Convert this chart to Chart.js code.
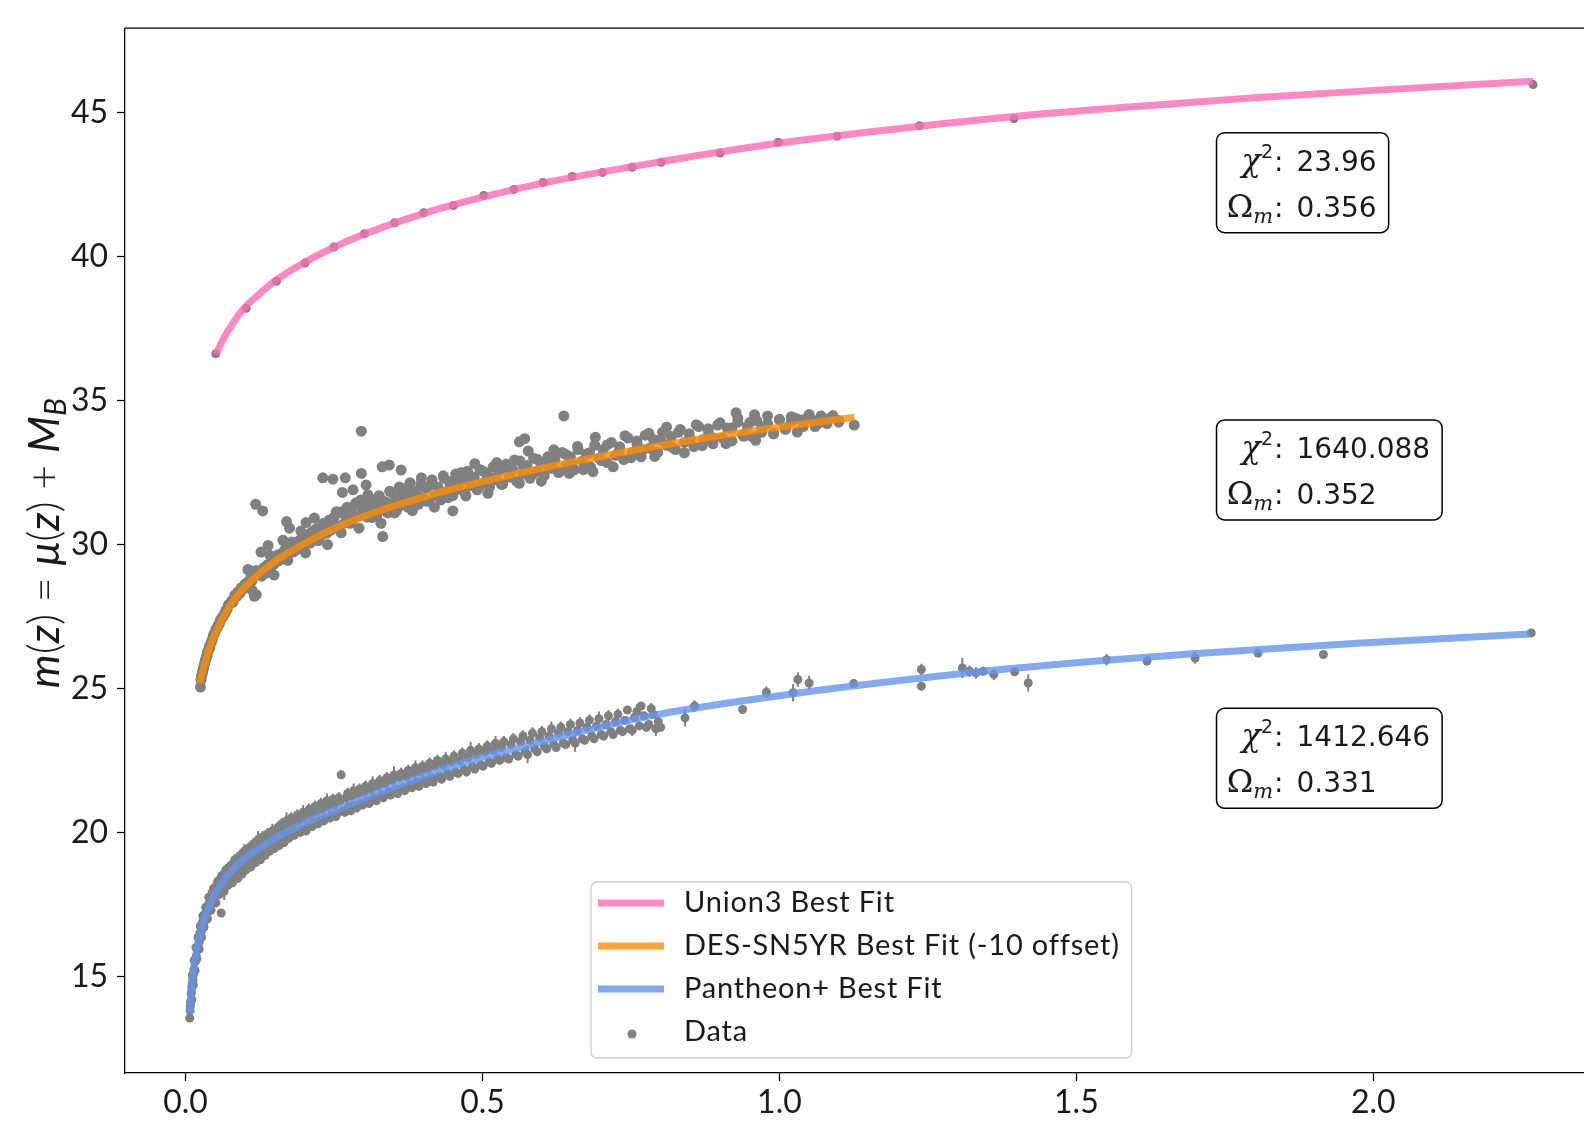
<!DOCTYPE html>
<html lang="en">
<head>
<meta charset="UTF-8">
<title>m(z) best fits</title>
<script src="https://cdn.jsdelivr.net/npm/chart.js"></script>
<style>
    html, body { margin: 0; padding: 0; background: #fff; overflow: hidden; }
    #wrap { width: 1600px; height: 1124px; }
</style>
</head>
<body>
<div id="wrap"><canvas id="chart" width="1600" height="1124"></canvas></div>
<script>
// ---- values ----
const xTicks = [0.0, 0.5, 1.0, 1.5, 2.0];
const yTicks = [15, 20, 25, 30, 35, 40, 45];

const fitLabels = ['Union3 Best Fit', 'DES-SN5YR Best Fit (-10 offset)', 'Pantheon+ Best Fit'];
const dataLabel = 'Data';
const chi2Values = ['23.96', '1640.088', '1412.646'];
const omegaValues = ['0.356', '0.352', '0.331'];

// best-fit curves
const union3FitZ = [0.051, 0.065, 0.08, 0.1, 0.125, 0.15, 0.2, 0.25, 0.3, 0.4, 0.5, 0.6, 0.8, 1.0, 1.2, 1.4, 1.6, 1.8, 2.0, 2.269];
const union3FitM = [36.6, 37.2, 37.7, 38.25, 38.72, 39.15, 39.8, 40.33, 40.78, 41.5, 42.07, 42.55, 43.3, 43.95, 44.45, 44.88, 45.22, 45.52, 45.78, 46.1];

const desFitZ = [0.024, 0.03, 0.035, 0.042, 0.052, 0.062, 0.074, 0.087, 0.102, 0.12, 0.14, 0.16, 0.186, 0.215, 0.242, 0.28, 0.327, 0.38, 0.439, 0.54, 0.641, 0.753, 0.865, 0.978, 1.09, 1.126];
const desFitM = [25.19, 25.68, 26.05, 26.5, 27.0, 27.42, 27.85, 28.22, 28.57, 28.92, 29.25, 29.55, 29.87, 30.2, 30.48, 30.82, 31.18, 31.52, 31.87, 32.38, 32.83, 33.27, 33.67, 34.02, 34.33, 34.42];

const pantheonFitZ = [0.007, 0.009, 0.012, 0.015, 0.018, 0.022, 0.026, 0.032, 0.040, 0.050, 0.063, 0.085, 0.108, 0.135, 0.164, 0.220, 0.276, 0.360, 0.473, 0.585, 0.66, 0.796, 1.0, 1.11, 1.40, 1.69, 1.98, 2.263];
const pantheonFitM = [13.70, 14.30, 14.98, 15.45, 15.83, 16.25, 16.60, 17.02, 17.45, 17.87, 18.30, 18.82, 19.22, 19.60, 19.95, 20.50, 20.98, 21.66, 22.45, 23.07, 23.47, 24.10, 24.75, 25.05, 25.71, 26.20, 26.58, 26.89];

// data points [z, m]
const union3Points = [
    [0.051, 36.63], [0.102, 38.21], [0.153, 39.15], [0.201, 39.78], [0.250, 40.34], [0.301, 40.80],
    [0.352, 41.18], [0.401, 41.53], [0.451, 41.78], [0.502, 42.13], [0.553, 42.34], [0.602, 42.58],
    [0.651, 42.79], [0.702, 42.93], [0.752, 43.11], [0.801, 43.28], [0.900, 43.60], [0.998, 43.98],
    [1.097, 44.19], [1.236, 44.55], [1.395, 44.79], [2.269, 45.98]
];

const desPoints = [
    [0.025, 25.05], [0.026, 25.3], [0.027, 25.45], [0.028, 25.5], [0.029, 25.62], [0.030, 25.7], [0.031, 25.78],
    [0.032, 25.85], [0.033, 25.95], [0.034, 26.0], [0.035, 26.1], [0.036, 26.12], [0.037, 26.25], [0.038, 26.3],
    [0.040, 26.45], [0.041, 26.42], [0.043, 26.6], [0.045, 26.7], [0.047, 26.85], [0.049, 26.92], [0.051, 27.05],
    [0.053, 27.1], [0.055, 27.2], [0.057, 27.25], [0.059, 27.38], [0.061, 27.45], [0.063, 27.5], [0.066, 27.6],
    [0.068, 27.72], [0.070, 27.75], [0.072, 27.9], [0.075, 27.95], [0.078, 28.05], [0.080, 28.0], [0.083, 28.25],
    [0.086, 28.2], [0.088, 28.35], [0.091, 28.3], [0.094, 28.5], [0.097, 28.45], [0.100, 28.62],
    [0.105, 28.7], [0.108, 28.65], [0.110, 28.85], [0.112, 28.75], [0.113, 29.07], [0.116, 28.20], [0.119, 28.26],
    [0.118, 31.40], [0.130, 31.17], [0.139, 29.97], [0.122, 28.95], [0.125, 29.05], [0.128, 28.9], [0.132, 29.2],
    [0.135, 29.1], [0.138, 29.3], [0.142, 29.25], [0.145, 29.45], [0.148, 29.3], [0.150, 29.55], [0.153, 29.4],
    [0.156, 29.65], [0.158, 29.45], [0.162, 29.7], [0.165, 29.55], [0.168, 29.85], [0.170, 30.80], [0.175, 30.57],
    [0.172, 29.6], [0.178, 29.95], [0.182, 29.75], [0.185, 30.05], [0.188, 29.85], [0.192, 30.15], [0.195, 29.9],
    [0.198, 30.3], [0.202, 30.0], [0.203, 30.77], [0.206, 30.35], [0.210, 30.05], [0.213, 30.45], [0.216, 30.15],
    [0.220, 30.55], [0.224, 30.2], [0.227, 30.6], [0.230, 30.35], [0.231, 32.32], [0.234, 30.75], [0.238, 30.4],
    [0.242, 30.85], [0.245, 30.5], [0.248, 32.27], [0.250, 30.95], [0.253, 30.6], [0.257, 31.1], [0.260, 30.65],
    [0.264, 31.81], [0.264, 31.15], [0.268, 30.75], [0.269, 32.32], [0.272, 31.3], [0.275, 30.85], [0.279, 31.25],
    [0.282, 31.90], [0.283, 30.9], [0.287, 31.45], [0.291, 31.0], [0.295, 31.55], [0.296, 32.47], [0.296, 33.94],
    [0.299, 31.05], [0.302, 31.3], [0.304, 32.07], [0.306, 30.95], [0.310, 31.6], [0.314, 31.15], [0.318, 31.4],
    [0.322, 31.0], [0.326, 31.7], [0.330, 31.25], [0.331, 32.70], [0.332, 30.28], [0.335, 31.5], [0.340, 31.1],
    [0.343, 32.76], [0.344, 31.85], [0.348, 31.3], [0.352, 31.6], [0.356, 31.2], [0.360, 32.0], [0.363, 32.59],
    [0.365, 31.45], [0.370, 31.75], [0.374, 31.3], [0.378, 32.15], [0.382, 31.55], [0.387, 31.85], [0.392, 31.4],
    [0.396, 32.1], [0.400, 31.6], [0.405, 31.95], [0.410, 31.5], [0.415, 32.25], [0.420, 31.7], [0.425, 32.0],
    [0.430, 31.55], [0.435, 32.3], [0.440, 31.85], [0.445, 32.15], [0.450, 31.17], [0.450, 31.7], [0.455, 32.45],
    [0.460, 31.95], [0.465, 32.25], [0.470, 31.8], [0.475, 32.55], [0.480, 32.05], [0.486, 32.35], [0.491, 31.9],
    [0.496, 32.6], [0.502, 32.15], [0.507, 32.45], [0.512, 32.0], [0.518, 32.7], [0.523, 32.25], [0.528, 32.55],
    [0.534, 32.1], [0.540, 32.8], [0.545, 32.35], [0.551, 32.6], [0.557, 32.2], [0.562, 33.57], [0.563, 32.9],
    [0.568, 32.45], [0.571, 33.68], [0.575, 32.75], [0.580, 32.3], [0.586, 33.0], [0.592, 32.55], [0.598, 32.85],
    [0.604, 32.4], [0.610, 33.05], [0.616, 32.65], [0.622, 32.95], [0.628, 32.5], [0.634, 33.2], [0.637, 34.47],
    [0.641, 32.75], [0.646, 32.47], [0.648, 33.05], [0.655, 32.6], [0.661, 33.3], [0.668, 32.9], [0.675, 33.15],
    [0.682, 32.7], [0.686, 32.53], [0.689, 33.45], [0.696, 33.0], [0.703, 33.3], [0.710, 32.85], [0.717, 33.55],
    [0.724, 33.1], [0.731, 33.4], [0.738, 32.95], [0.745, 33.7], [0.752, 33.2], [0.760, 33.5], [0.767, 33.05],
    [0.774, 33.8], [0.781, 33.35], [0.788, 33.65], [0.795, 33.2], [0.803, 33.9], [0.810, 33.45], [0.818, 33.75],
    [0.825, 33.3], [0.833, 34.0], [0.840, 33.55], [0.848, 33.85], [0.856, 33.4], [0.864, 34.1], [0.872, 33.65],
    [0.880, 33.95], [0.888, 33.5], [0.896, 34.15], [0.904, 33.7], [0.912, 34.05], [0.920, 33.6], [0.927, 34.58],
    [0.930, 34.25], [0.938, 33.8], [0.946, 34.1], [0.954, 33.75], [0.958, 34.51], [0.962, 34.3], [0.970, 33.9],
    [0.980, 34.2], [0.990, 33.85], [1.000, 34.35], [1.010, 34.0], [1.020, 34.3], [1.028, 34.38], [1.040, 34.1],
    [1.056, 34.32], [1.065, 34.2], [1.084, 34.38], [1.100, 34.25], [1.126, 34.15]
];

// the wider part of the DES cloud
const desSpread = [
    [0.105, 29.13], [0.112, 28.42], [0.119, 29.10], [0.127, 29.74], [0.134, 29.00], [0.142, 29.63], [0.149, 28.94],
    [0.157, 29.55], [0.164, 30.15], [0.172, 29.45], [0.179, 30.09], [0.187, 29.83], [0.194, 30.47], [0.202, 29.71],
    [0.209, 30.34], [0.217, 30.92], [0.224, 30.14], [0.232, 30.73], [0.239, 30.00], [0.247, 30.57], [0.254, 31.14],
    [0.262, 30.41], [0.269, 31.02], [0.277, 30.74], [0.284, 31.35], [0.292, 30.57], [0.299, 31.17], [0.307, 31.73],
    [0.314, 30.94], [0.322, 31.49], [0.329, 30.74], [0.337, 31.30], [0.344, 31.85], [0.352, 31.10], [0.359, 31.69],
    [0.367, 31.39], [0.374, 31.98], [0.382, 31.18], [0.389, 31.77], [0.397, 32.32], [0.404, 31.51], [0.412, 32.06],
    [0.419, 31.30], [0.427, 31.84], [0.434, 32.39], [0.442, 31.63], [0.449, 32.22], [0.457, 31.91], [0.464, 32.50],
    [0.472, 31.69], [0.479, 32.28], [0.487, 32.81], [0.494, 32.00], [0.502, 32.54], [0.509, 31.78], [0.517, 32.32],
    [0.524, 32.85], [0.532, 32.09], [0.539, 32.68], [0.547, 32.36], [0.554, 32.94], [0.562, 32.13], [0.569, 32.71],
    [0.577, 33.25], [0.584, 32.43], [0.592, 32.96], [0.599, 32.20], [0.61, 32.75], [0.62, 33.29], [0.63, 32.54],
    [0.64, 33.13], [0.65, 32.82], [0.66, 33.41], [0.67, 32.60], [0.68, 33.19], [0.69, 33.73], [0.70, 32.92],
    [0.71, 33.46], [0.72, 32.70], [0.73, 33.24], [0.74, 33.78], [0.75, 33.02], [0.76, 33.60], [0.77, 33.29],
    [0.78, 33.87], [0.79, 33.06], [0.80, 33.64], [0.81, 34.08], [0.82, 33.37], [0.83, 33.90], [0.84, 33.19],
    [0.85, 33.67], [0.86, 34.16], [0.87, 33.44], [0.88, 34.02], [0.89, 33.70], [0.90, 34.23], [0.91, 33.51],
    [0.92, 34.05], [0.93, 34.38], [0.94, 33.76], [0.95, 34.24], [0.96, 33.62], [0.97, 34.05], [0.98, 34.47],
    [0.99, 33.85], [1.00, 34.33], [1.01, 34.06], [1.02, 34.44], [1.03, 33.91], [1.04, 34.34], [1.05, 34.52],
    [1.06, 34.10], [1.07, 34.47], [1.08, 34.20], [1.09, 34.48], [1.10, 34.31]
];

const pantheonPoints = [
    [0.007, 13.55], [0.0075, 13.8], [0.008, 13.95], [0.0085, 14.1], [0.009, 14.15], [0.0095, 14.4], [0.010, 14.45],
    [0.0105, 14.6], [0.011, 14.7], [0.0115, 14.75], [0.012, 14.95], [0.0125, 14.85], [0.013, 15.05], [0.0135, 15.1],
    [0.014, 15.25], [0.015, 15.2], [0.016, 15.5], [0.017, 15.6], [0.018, 15.7], [0.019, 15.95], [0.020, 16.0],
    [0.021, 16.05], [0.022, 16.3], [0.023, 16.2], [0.024, 16.5], [0.025, 16.45], [0.026, 16.7], [0.027, 16.6],
    [0.028, 16.85], [0.029, 16.75], [0.030, 16.95], [0.032, 16.9], [0.033, 17.15], [0.035, 17.1], [0.036, 17.35],
    [0.038, 17.3], [0.040, 17.55], [0.042, 17.5], [0.044, 17.7], [0.046, 17.65], [0.048, 17.85], [0.050, 17.75],
    [0.052, 18.0], [0.055, 17.95], [0.058, 18.15], [0.060, 18.05], [0.060, 17.2], [0.063, 18.3], [0.066, 18.2],
    [0.069, 18.45], [0.072, 18.3], [0.075, 18.6], [0.078, 18.45], [0.081, 18.75], [0.084, 18.55], [0.087, 18.85],
    [0.090, 18.65], [0.093, 18.95], [0.096, 18.75], [0.100, 19.05], [0.104, 18.85], [0.108, 19.2], [0.112, 18.95],
    [0.116, 19.35], [0.120, 19.1], [0.124, 19.5], [0.128, 19.25], [0.132, 19.6], [0.136, 19.35], [0.140, 19.75],
    [0.144, 19.5], [0.148, 19.85], [0.152, 19.6], [0.156, 19.95], [0.160, 19.7], [0.164, 20.1], [0.168, 19.85],
    [0.172, 20.2], [0.176, 19.95], [0.180, 20.3], [0.185, 20.05], [0.190, 20.4], [0.195, 20.1], [0.200, 20.5],
    [0.205, 20.2], [0.210, 20.6], [0.215, 20.35], [0.220, 20.7], [0.225, 20.4], [0.230, 20.8], [0.235, 20.5],
    [0.240, 20.9], [0.245, 20.6], [0.250, 20.95], [0.255, 20.65], [0.260, 21.1], [0.262, 22.0], [0.265, 20.75],
    [0.270, 21.2], [0.275, 20.9], [0.280, 21.25], [0.285, 20.95], [0.290, 21.35], [0.295, 21.0], [0.300, 21.4],
    [0.306, 21.1], [0.312, 21.5], [0.318, 21.2], [0.324, 21.6], [0.330, 21.3], [0.336, 21.7], [0.342, 21.4],
    [0.348, 21.8], [0.354, 21.5], [0.360, 21.9], [0.366, 21.55], [0.372, 21.95], [0.378, 21.65], [0.384, 22.05],
    [0.390, 21.75], [0.396, 22.1], [0.402, 21.8], [0.408, 22.2], [0.414, 21.9], [0.420, 22.3], [0.427, 21.95],
    [0.434, 22.35], [0.441, 22.05], [0.448, 22.45], [0.455, 22.1], [0.462, 22.5], [0.469, 22.2], [0.476, 22.6],
    [0.483, 22.3], [0.490, 22.7], [0.497, 22.35], [0.504, 22.8], [0.511, 22.45], [0.518, 22.85], [0.525, 22.55],
    [0.532, 22.95], [0.540, 22.6], [0.548, 23.05], [0.556, 22.7], [0.564, 23.15], [0.572, 22.8], [0.580, 23.2],
    [0.588, 22.9], [0.596, 23.3], [0.604, 23.0], [0.612, 23.35], [0.620, 23.05], [0.628, 23.45], [0.636, 23.1],
    [0.644, 23.5], [0.652, 23.2], [0.660, 23.55], [0.668, 23.25], [0.676, 23.65], [0.684, 23.35], [0.692, 23.7],
    [0.700, 23.4], [0.708, 23.75], [0.716, 23.5], [0.724, 23.85], [0.732, 23.55], [0.740, 23.9], [0.744, 24.25],
    [0.748, 23.6], [0.756, 24.0], [0.764, 23.7], [0.767, 24.39], [0.772, 24.05], [0.780, 23.75], [0.788, 24.1],
    [0.796, 23.85], [0.800, 23.65]
];

// the wider part of the Pantheon+ band [z, m, error]
const pantheonSpread = [
    [0.0105, 14.2, 0.15], [0.0115, 15.05, 0.2], [0.013, 14.7, 0.15], [0.0145, 15.55, 0.2], [0.016, 15.2, 0.15],
    [0.0175, 16.0, 0.2], [0.019, 15.6, 0.15], [0.021, 16.35, 0.2], [0.023, 15.95, 0.15], [0.025, 16.75, 0.2],
    [0.027, 16.35, 0.15], [0.029, 17.1, 0.2], [0.031, 16.7, 0.15], [0.034, 17.4, 0.2], [0.037, 17.0, 0.15],
    [0.039, 17.75, 0.25], [0.043, 17.3, 0.15], [0.047, 18.05, 0.2], [0.051, 17.55, 0.15], [0.054, 18.3, 0.2],
    [0.057, 17.85, 0.15], [0.061, 18.5, 0.2], [0.065, 17.95, 0.3], [0.068, 18.7, 0.2], [0.071, 18.15, 0.15],
    [0.076, 18.85, 0.2], [0.079, 18.25, 0.15], [0.083, 19.05, 0.2], [0.088, 18.4, 0.15], [0.092, 19.2, 0.2],
    [0.095, 18.55, 0.15], [0.099, 19.35, 0.25], [0.102, 18.7, 0.15], [0.106, 19.45, 0.2], [0.11, 18.8, 0.15],
    [0.114, 19.6, 0.2], [0.118, 18.95, 0.15], [0.122, 19.75, 0.3], [0.126, 19.05, 0.15], [0.13, 19.85, 0.2],
    [0.134, 19.2, 0.15], [0.138, 19.95, 0.2], [0.142, 19.35, 0.15], [0.146, 20.05, 0.25], [0.15, 19.45, 0.15],
    [0.154, 20.15, 0.2], [0.158, 19.55, 0.15], [0.162, 20.3, 0.2], [0.166, 19.65, 0.15], [0.17, 20.4, 0.3],
    [0.174, 19.8, 0.15], [0.178, 20.5, 0.2], [0.183, 19.9, 0.15], [0.188, 20.6, 0.2], [0.193, 20.0, 0.15],
    [0.198, 20.7, 0.25], [0.203, 20.05, 0.15], [0.208, 20.8, 0.2], [0.213, 20.2, 0.15], [0.218, 20.9, 0.2],
    [0.223, 20.3, 0.15], [0.228, 21.0, 0.2], [0.233, 20.4, 0.15], [0.238, 21.1, 0.25], [0.243, 20.5, 0.15],
    [0.248, 21.15, 0.2], [0.253, 20.55, 0.15], [0.258, 21.2, 0.2], [0.268, 20.7, 0.15], [0.273, 21.35, 0.2],
    [0.278, 20.75, 0.15], [0.283, 21.45, 0.25], [0.288, 20.85, 0.15], [0.293, 21.5, 0.2], [0.298, 20.95, 0.15],
    [0.303, 21.6, 0.2], [0.309, 21.0, 0.15], [0.315, 21.7, 0.25], [0.321, 21.1, 0.15], [0.327, 21.8, 0.2],
    [0.333, 21.2, 0.15], [0.339, 21.9, 0.2], [0.345, 21.3, 0.15], [0.351, 22.0, 0.3], [0.357, 21.35, 0.15],
    [0.363, 22.05, 0.2], [0.369, 21.45, 0.15], [0.375, 22.15, 0.2], [0.381, 21.55, 0.15], [0.387, 22.25, 0.25],
    [0.393, 21.6, 0.15], [0.399, 22.3, 0.2], [0.405, 21.7, 0.15], [0.411, 22.4, 0.2], [0.417, 21.75, 0.15],
    [0.424, 22.5, 0.2], [0.431, 21.85, 0.15], [0.438, 22.55, 0.25], [0.445, 21.95, 0.15], [0.452, 22.65, 0.2],
    [0.459, 22.05, 0.15], [0.466, 22.75, 0.2], [0.473, 22.1, 0.15], [0.48, 22.85, 0.3], [0.487, 22.2, 0.15],
    [0.494, 22.9, 0.2], [0.501, 22.3, 0.15], [0.508, 23.0, 0.2], [0.515, 22.4, 0.15], [0.522, 23.1, 0.25],
    [0.529, 22.5, 0.15], [0.536, 23.15, 0.2], [0.544, 22.55, 0.15], [0.552, 23.25, 0.2], [0.56, 22.65, 0.15],
    [0.568, 23.35, 0.2], [0.576, 22.7, 0.3], [0.584, 23.45, 0.2], [0.592, 22.8, 0.15], [0.6, 23.5, 0.2],
    [0.608, 22.9, 0.15], [0.616, 23.6, 0.25], [0.624, 22.95, 0.15], [0.632, 23.65, 0.2], [0.64, 23.05, 0.15],
    [0.648, 23.75, 0.2], [0.656, 23.1, 0.3], [0.664, 23.8, 0.2], [0.672, 23.2, 0.15], [0.68, 23.9, 0.2],
    [0.688, 23.25, 0.15], [0.696, 23.95, 0.25], [0.704, 23.35, 0.15], [0.712, 24.05, 0.2], [0.72, 23.4, 0.15],
    [0.728, 24.1, 0.2], [0.736, 23.5, 0.15], [0.752, 23.55, 0.2], [0.76, 24.2, 0.25], [0.776, 23.65, 0.15],
    [0.784, 24.3, 0.2], [0.792, 23.6, 0.25]
];

// sparse high-z Pantheon+ points [z, m, error]
const pantheonHiPoints = [
    [0.841, 23.98, 0.3], [0.857, 24.39, 0.2], [0.938, 24.27, 0.15], [0.978, 24.87, 0.2], [1.023, 24.85, 0.3],
    [1.031, 25.31, 0.25], [1.05, 25.19, 0.25], [1.125, 25.17, 0.15], [1.239, 25.66, 0.2], [1.239, 25.08, 0.15],
    [1.308, 25.71, 0.35], [1.320, 25.6, 0.2], [1.331, 25.54, 0.2], [1.343, 25.6, 0.15], [1.361, 25.49, 0.2],
    [1.396, 25.58, 0.15], [1.419, 25.19, 0.3], [1.551, 26.0, 0.2], [1.619, 25.95, 0.15], [1.70, 26.06, 0.2],
    [1.806, 26.23, 0.15], [1.916, 26.18, 0.15], [2.266, 26.93, 0.15]
];

// ---- styles ----
const PINK = 'rgba(255, 105, 180, 0.8)';
const ORANGE = 'rgba(255, 140, 0, 0.8)';
const BLUE = 'rgba(100, 149, 237, 0.8)';
const GRAY = '#808080';
const TEXT = '#1a1a1a';
const fitColors = [PINK, ORANGE, BLUE];

const toXY = (zs, ms) => zs.map((z, i) => ({ x: z, y: ms[i] }));
const pts = arr => arr.map(p => ({ x: p[0], y: p[1] }));

function fitDataset(label, zs, ms, color) {
    return {
        type: 'line', label: label, data: toXY(zs, ms),
        borderColor: color, borderWidth: 7, pointRadius: 0,
        cubicInterpolationMode: 'monotone', fill: false, order: 0
    };
}
function dataDataset(arr, r) {
    return {
        type: 'scatter', label: dataLabel, data: pts(arr),
        backgroundColor: GRAY, borderWidth: 0, pointRadius: r, order: 1
    };
}

// top and right spines
const framePlugin = {
    id: 'frame',
    afterDraw(chart) {
        const { ctx, chartArea: a } = chart;
        ctx.save();
        ctx.strokeStyle = '#000';
        ctx.lineWidth = 1.25;
        ctx.beginPath();
        ctx.moveTo(a.left, a.top);
        ctx.lineTo(a.right, a.top);
        ctx.lineTo(a.right, a.bottom);
        ctx.stroke();
        ctx.restore();
    }
};

// vertical error bars of the Pantheon+ points
const errorBarPlugin = {
    id: 'errbars',
    beforeDatasetsDraw(chart) {
        const { ctx, scales: { x, y } } = chart;
        ctx.save();
        ctx.strokeStyle = GRAY;
        ctx.lineWidth = 2;
        pantheonSpread.concat(pantheonHiPoints).forEach(p => {
            const px = x.getPixelForValue(p[0]);
            ctx.beginPath();
            ctx.moveTo(px, y.getPixelForValue(p[1] - p[2]));
            ctx.lineTo(px, y.getPixelForValue(p[1] + p[2]));
            ctx.stroke();
        });
        ctx.restore();
    }
};

// chi^2 / Omega_m boxes
const statsPlugin = {
    id: 'stats',
    afterDraw(chart, args, opts) {
        const { ctx, scales: { x, y } } = chart;
        ctx.save();
        opts.tops.forEach((top, i) => {
            const L = x.getPixelForValue(opts.left);
            const T = y.getPixelForValue(top);
            const colonX = L + 67, valX = L + 80;
            ctx.font = '28px "DejaVu Sans"';
            const w = Math.max(ctx.measureText(chi2Values[i]).width, ctx.measureText(omegaValues[i]).width);
            const W = valX + w + 12 - L, H = 100;

            ctx.fillStyle = '#fff';
            ctx.strokeStyle = '#000';
            ctx.lineWidth = 1.5;
            ctx.beginPath();
            ctx.roundRect(L, T, W, H, 8);
            ctx.fill();
            ctx.stroke();

            ctx.fillStyle = TEXT;
            ctx.textBaseline = 'alphabetic';
            const b1 = T + 38, b2 = T + 84;

            ctx.font = '28px "DejaVu Sans"';
            ctx.textAlign = 'right';
            ctx.fillText(':', colonX, b1);
            ctx.fillText(':', colonX, b2);
            const cw = ctx.measureText(':').width;
            ctx.textAlign = 'left';
            ctx.fillText(chi2Values[i], valX, b1);
            ctx.fillText(omegaValues[i], valX, b2);

            // chi^2 label
            ctx.textAlign = 'right';
            ctx.font = '19px "DejaVu Sans"';
            ctx.fillText('2', colonX - cw - 1, b1 - 13);
            const sw = ctx.measureText('2').width;
            ctx.font = 'italic 32px "DejaVu Serif"';
            ctx.fillText('χ', colonX - cw - sw - 1, b1);

            // Omega_m label
            ctx.font = 'italic 21px "DejaVu Serif"';
            ctx.fillText('m', colonX - cw - 1, b2 + 6);
            const mw = ctx.measureText('m').width;
            ctx.font = '32px "DejaVu Serif"';
            ctx.fillText('Ω', colonX - cw - mw - 1, b2);
        });
        ctx.restore();
    }
};

// legend box in the lower middle of the axes
const legendPlugin = {
    id: 'boxLegend',
    afterDraw(chart, args, opts) {
        const { ctx } = chart;
        const x0 = opts.x, y0 = opts.y, rowH = 43;
        const textX = x0 + 93;
        ctx.save();
        ctx.font = '29px Lato';
        ctx.letterSpacing = '0.8px';
        const labels = fitLabels.concat([dataLabel]);
        const tw = Math.max(...labels.map(l => ctx.measureText(l).width));
        const W = textX + tw + 12 - x0, H = 176;
        ctx.fillStyle = 'rgba(255,255,255,0.8)';
        ctx.strokeStyle = '#cccccc';
        ctx.lineWidth = 1.3;
        ctx.beginPath();
        ctx.roundRect(x0, y0, W, H, 6);
        ctx.fill();
        ctx.stroke();

        ctx.textBaseline = 'middle';
        ctx.textAlign = 'left';
        labels.forEach((lab, i) => {
            const cy = y0 + 21 + i * rowH;
            if (i < 3) {
                ctx.strokeStyle = fitColors[i];
                ctx.lineWidth = 7;
                ctx.beginPath();
                ctx.moveTo(x0 + 7, cy);
                ctx.lineTo(x0 + 73, cy);
                ctx.stroke();
            } else {
                ctx.fillStyle = GRAY;
                ctx.beginPath();
                ctx.arc(x0 + 41, cy + 2, 4.5, 0, Math.PI * 2);
                ctx.fill();
            }
            ctx.fillStyle = TEXT;
            ctx.fillText(lab, textX, cy);
        });
        ctx.restore();
    }
};

// rotated y-axis title with math styling
const yTitleParts = [['m', 'i'], ['(', 'r'], ['z', 'i'], [')', 'r'], [' = ', 'r'], ['μ', 'i'], ['(', 'r'], ['z', 'i'], [')', 'r'], [' + ', 'r'], ['M', 'i'], ['B', 's']];
const yTitlePlugin = {
    id: 'yTitle',
    afterDraw(chart) {
        const { ctx } = chart;
        const fontOf = (k, size) => k === 'i' ? `italic ${size}px Lato` :
            k === 's' ? `italic ${Math.round(size * 0.7)}px Lato` : `300 ${size}px Lato`;
        const measure = size => yTitleParts.reduce((s, p) => { ctx.font = fontOf(p[1], size); return s + ctx.measureText(p[0]).width; }, 0);
        ctx.save();
        const size = Math.round(36 * 288 / measure(36));
        const total = measure(size);
        ctx.translate(59, 543);
        ctx.rotate(-Math.PI / 2);
        ctx.fillStyle = TEXT;
        ctx.textBaseline = 'alphabetic';
        ctx.textAlign = 'left';
        let cx = -total / 2;
        yTitleParts.forEach(p => {
            ctx.font = fontOf(p[1], size);
            ctx.fillText(p[0], cx, p[1] === 's' ? 7 : 0);
            cx += ctx.measureText(p[0]).width;
        });
        ctx.restore();
    }
};

const tickFont = { family: 'Lato', size: 32 };

new Chart(document.getElementById('chart').getContext('2d'), {
    type: 'scatter',
    data: {
        datasets: [
            fitDataset(fitLabels[0], union3FitZ, union3FitM, PINK),
            fitDataset(fitLabels[1], desFitZ, desFitM, ORANGE),
            fitDataset(fitLabels[2], pantheonFitZ, pantheonFitM, BLUE),
            dataDataset(union3Points, 4.5),
            dataDataset(desPoints, 5.5),
            dataDataset(desSpread, 5.5),
            dataDataset(pantheonPoints, 4.5),
            dataDataset(pantheonSpread, 4.5),
            dataDataset(pantheonHiPoints, 4.5)
        ]
    },
    options: {
        responsive: false,
        animation: false,
        layout: { padding: { top: 25, right: 5, left: 0, bottom: 0 } },
        plugins: {
            legend: { display: false },
            tooltip: { enabled: false },
            stats: { left: 1.736, tops: [44.31, 34.33, 24.31] },
            boxLegend: { x: 591, y: 882 }
        },
        scales: {
            x: {
                type: 'linear', min: -0.102, max: 2.3725,
                afterBuildTicks: s => { s.ticks = xTicks.map(v => ({ value: v })); },
                afterFit: s => { s.height = 51; },
                grid: { display: true, drawOnChartArea: false, drawTicks: true, tickLength: 8, tickWidth: 1.25, tickColor: '#000' },
                border: { display: true, color: '#000', width: 1.25 },
                ticks: { color: TEXT, font: tickFont, padding: 2, maxRotation: 0, autoSkip: false, callback: v => v.toFixed(1) }
            },
            y: {
                type: 'linear', min: 11.64, max: 47.94,
                afterBuildTicks: s => { s.ticks = yTicks.map(v => ({ value: v })); },
                afterFit: s => { s.width = 125; },
                grid: { display: true, drawOnChartArea: false, drawTicks: true, tickLength: 8, tickWidth: 1.25, tickColor: '#000' },
                border: { display: true, color: '#000', width: 1.25 },
                ticks: { color: TEXT, font: tickFont, padding: 9, autoSkip: false, callback: v => String(v) }
            }
        }
    },
    plugins: [framePlugin, errorBarPlugin, statsPlugin, legendPlugin, yTitlePlugin]
});
</script>
</body>
</html>
